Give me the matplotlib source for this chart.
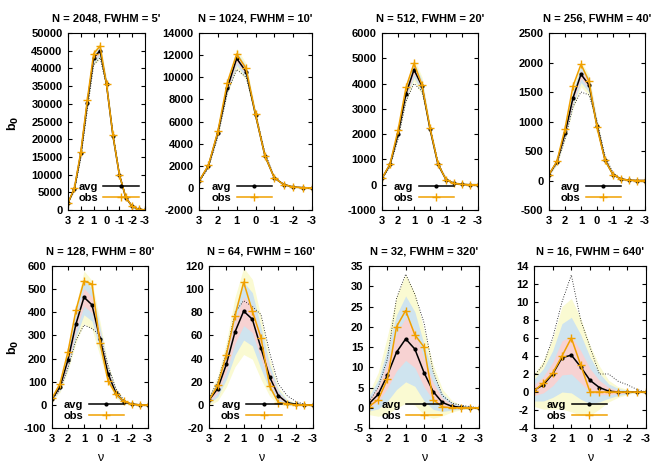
import numpy as np
import matplotlib.pyplot as plt
from matplotlib import font_manager

nu = [3, 2.5, 2, 1.5, 1, 0.5, 0, -0.5, -1, -1.5, -2, -2.5, -3]

titles = ["N = 2048, FWHM = 5'", "N = 1024, FWHM = 10'", "N = 512, FWHM = 20'", "N = 256, FWHM = 40'",
          "N = 128, FWHM = 80'", "N = 64, FWHM = 160'", "N = 32, FWHM = 320'", "N = 16, FWHM = 640'"]

avg_2048 = [2000, 6000, 16000, 30200, 43000, 45000, 35500, 21000, 10000, 3500, 1000, 200, 0]
obs_2048 = [2000, 6200, 16500, 31000, 44200, 46300, 35500, 21200, 10000, 3600, 1000, 200, 0]
sig_2048 = [60, 150, 300, 500, 700, 800, 600, 400, 200, 80, 30, 10, 0]
dot_2048 = [1800, 5400, 14500, 28000, 41000, 43000, 35000, 22000, 10500, 3800, 1100, 200, 0]

avg_1024 = [600, 2000, 5000, 9000, 11700, 10500, 6600, 2900, 900, 300, 80, 20, 0]
obs_1024 = [600, 2050, 5100, 9500, 12100, 10800, 6650, 2900, 900, 300, 80, 20, 0]
sig_1024 = [20, 50, 120, 200, 300, 260, 150, 80, 30, 10, 5, 2, 0]
dot_1024 = [550, 1800, 4600, 8600, 10700, 10000, 6800, 3200, 1000, 330, 90, 20, 0]

avg_512 = [250, 800, 2000, 3600, 4550, 3900, 2200, 800, 200, 50, 10, 0, 0]
obs_512 = [250, 820, 2150, 3850, 4800, 3950, 2250, 830, 200, 50, 10, 0, 0]
sig_512 = [10, 30, 60, 110, 150, 120, 70, 35, 12, 5, 2, 0, 0]
dot_512 = [230, 720, 1800, 3300, 4000, 3700, 2300, 900, 250, 60, 10, 0, 0]

avg_256 = [100, 320, 800, 1400, 1800, 1620, 930, 350, 100, 25, 5, 0, 0]
obs_256 = [100, 330, 880, 1600, 1970, 1680, 900, 340, 100, 25, 5, 0, 0]
sig_256 = [8, 20, 40, 60, 70, 60, 40, 20, 8, 3, 1, 0, 0]
dot_256 = [90, 290, 700, 1250, 1500, 1450, 1000, 420, 130, 30, 5, 0, 0]

avg_128 = [25, 78, 195, 350, 465, 432, 285, 135, 50, 12, 3, 0, 0]
obs_128 = [28, 92, 230, 410, 535, 522, 268, 105, 45, 15, 3, 0, 0]
sig_128 = [3, 8, 16, 27, 38, 35, 25, 14, 7, 3, 1, 0, 0]
dot_128 = [22, 65, 160, 280, 345, 330, 300, 170, 70, 18, 4, 0, 0]

avg_64 = [4, 14, 35, 63, 81, 74, 49, 24, 8, 2, 0.5, 0, 0]
obs_64 = [4, 17, 43, 77, 106, 81, 58, 16, 2, 1, 0, 0, 0]
sig_64 = [1.5, 3.5, 6.5, 10, 12.5, 11.5, 9, 5.5, 2.5, 1, 0.4, 0, 0]
dot_64 = [6, 20, 45, 80, 90, 85, 78, 45, 18, 8, 3, 0.5, 0]

avg_32 = [1, 3.3, 8, 13.7, 17, 14.5, 8.7, 4, 1.3, 0.4, 0.1, 0, 0]
obs_32 = [0.3, 2, 7, 20, 24, 18, 15, 2, 0.2, 0, 0, 0, 0]
sig_32 = [0.9, 1.8, 3.2, 4.6, 5.3, 4.6, 3.5, 2.2, 1.1, 0.5, 0.2, 0.1, 0]
dot_32 = [1.5, 5, 12, 27, 33, 28, 21, 9, 3, 1.2, 0.6, 0.3, 0]

avg_16 = [0.2, 0.8, 2, 3.8, 4.1, 2.8, 1.3, 0.5, 0.1, 0, 0, 0, 0]
obs_16 = [0.1, 1, 2.1, 4, 6, 3, 0, 0, 0, 0, 0, 0, 0]
sig_16 = [0.6, 0.9, 1.3, 1.9, 2.1, 1.8, 1.3, 0.8, 0.4, 0.2, 0.1, 0, 0]
dot_16 = [1.8, 3, 6, 10, 13, 8, 5, 2, 2, 1.2, 0.8, 0.3, 0]

avgs = [avg_2048, avg_1024, avg_512, avg_256, avg_128, avg_64, avg_32, avg_16]
obss = [obs_2048, obs_1024, obs_512, obs_256, obs_128, obs_64, obs_32, obs_16]
sigs = [sig_2048, sig_1024, sig_512, sig_256, sig_128, sig_64, sig_32, sig_16]
dots = [dot_2048, dot_1024, dot_512, dot_256, dot_128, dot_64, dot_32, dot_16]

ylims = [(0, 50000, 5000), (-2000, 14000, 2000), (-1000, 6000, 1000), (-500, 2500, 500),
         (-100, 600, 100), (-20, 120, 20), (-5, 35, 5), (-4, 14, 2)]

W, H = 664, 465
rects = [(68, 33, 145, 210), (199, 33, 312, 210), (382, 33, 478, 210), (549, 33, 645, 210),
         (52, 266, 148, 428), (209, 266, 313, 428), (369, 266, 479, 428), (534, 266, 646, 428)]

# pick the regular-width Liberation Sans Bold, not the Narrow one
bold_path = [f for f in font_manager.findSystemFonts() if f.endswith("LiberationSans-Bold.ttf")]
if bold_path:
    font_manager.fontManager.addfont(bold_path[0])
    FP = font_manager.FontProperties(fname=bold_path[0])
    plt.rcParams["font.family"] = FP.get_name()

YEL, BLU, PNK, ORA = "#fafad2", "#cfe4ef", "#f7d2d2", "#f0a000"
plt.rcParams.update({"font.size": 8, "font.weight": "bold", "axes.unicode_minus": False})
fig = plt.figure(figsize=(W / 100, H / 100), dpi=100)

for i in range(8):
    x0, y0, x1, y1 = rects[i]
    ax = fig.add_axes([x0 / W, 1 - y1 / H, (x1 - x0) / W, (y1 - y0) / H])
    a, s = np.array(avgs[i], float), np.array(sigs[i], float)
    ax.fill_between(nu, a - 3 * s, a + 3 * s, color=YEL, lw=0)
    ax.fill_between(nu, a - 2 * s, a + 2 * s, color=BLU, lw=0)
    ax.fill_between(nu, a - s, a + s, color=PNK, lw=0)
    ax.plot(nu, dots[i], ls=(0, (1, 2)), color="black", lw=0.6)
    ax.plot(nu, avgs[i], color="black", marker="o", ms=2, lw=1.1, label="avg")
    ax.plot(nu, obss[i], color=ORA, marker="+", ms=6, mew=1, lw=1.1, label="obs")
    lo, hi, st = ylims[i]
    ax.set_ylim(lo, hi)
    ax.set_yticks(np.arange(lo, hi + st / 2, st))
    ax.set_xlim(3, -3)
    ax.set_xticks([3, 2, 1, 0, -1, -2, -3])
    ax.tick_params(direction="in", length=3, top=True, right=True, pad=4, labelsize=8)
    ax.set_title(titles[i], fontsize=8, fontweight="bold", pad=8)
    ax.legend(loc="lower left", frameon=False, handlelength=3.2, borderaxespad=0.1,
              labelspacing=0.1, markerfirst=False, fontsize=8, handletextpad=0.5,
              bbox_to_anchor=(0.06, 0.01))
    if i >= 4:
        ax.set_xlabel("ν", fontsize=9, fontweight="normal", labelpad=6)

fig.text(13 / W, 1 - 123 / H, "b$_0$", fontsize=9, fontweight="bold", rotation=90, va="center", ha="center")
fig.text(13 / W, 1 - 347 / H, "b$_0$", fontsize=9, fontweight="bold", rotation=90, va="center", ha="center")

fig.savefig("out.png", dpi=100)
